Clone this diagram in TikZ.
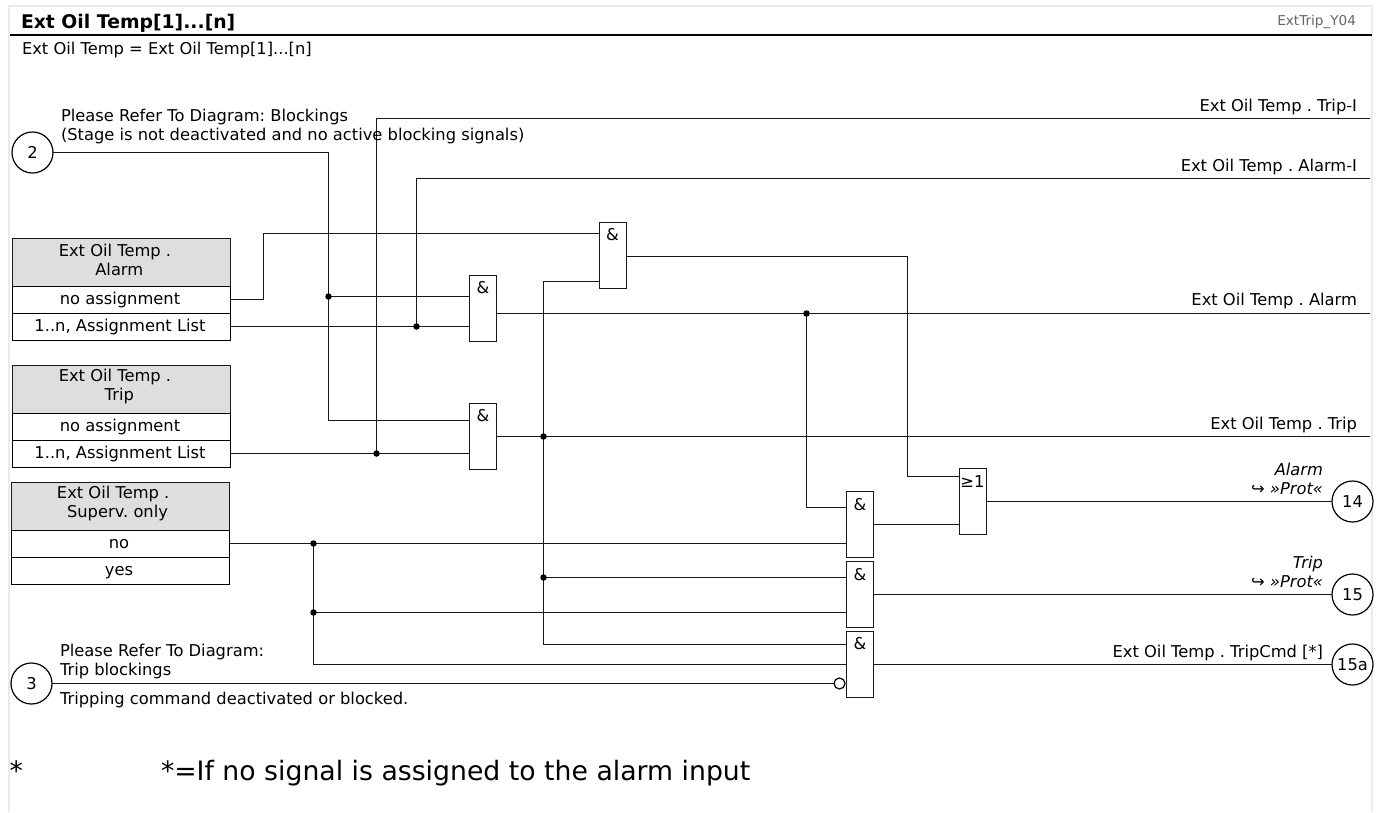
\documentclass[tikz,border=0pt]{standalone}
\usepackage{fontspec}
\setmainfont{DejaVu Sans}
\newcommand{\fs}[2]{\fontsize{#1}{#2}\selectfont}
\tikzset{
  x=1pt,y=-1pt,
  outer sep=0pt,
  wire/.style={draw=black!90,line width=1.6pt},
  gate/.style={draw=black!90,fill=white,line width=1.6pt,minimum width=27pt,minimum height=66pt,inner sep=0pt,anchor=north west},
  gatetext/.style={inner sep=0pt,font=\fs{16.3}{19}},
  term/.style={circle,draw=black,fill=white,line width=1.2pt,minimum size=41pt,inner sep=0pt,font=\fs{16.3}{19}},
  head/.style={draw=black!90,fill=black!13,line width=1.6pt,anchor=north west,inner sep=0pt,minimum width=218pt,minimum height=48pt},
  headtext/.style={inner sep=0pt,align=center,font=\fs{16.3}{19}},
  cell/.style={draw=black,fill=white,line width=1.6pt,anchor=north west,inner sep=0pt,minimum width=218pt,minimum height=27pt,text height=11pt,text depth=3pt,font=\fs{16.3}{19}},
  lab/.style={inner sep=0pt,font=\fs{16.3}{19},align=left},
  rlab/.style={inner sep=0pt,anchor=base east,font=\fs{16.3}{19}},
  junction/.style={circle,fill=black,inner sep=0pt,minimum size=6.5pt},
  inv/.style={circle,draw=black,fill=white,line width=1.2pt,inner sep=0pt,minimum size=11pt}
}
\begin{document}
\frenchspacing
\begin{tikzpicture}
\useasboundingbox (0,0) rectangle (1378,812);
\fill[white] (0,0) rectangle (1378,812);
\draw[black!8,line width=2pt] (9,812) -- (9,6) -- (1372,6) -- (1372,812);
\draw[black,line width=2.6pt] (10,35) -- (1372,35);
\node[inner sep=0pt,anchor=base west,font=\fs{18.8}{22}\bfseries] (title) at (21,28) {Ext Oil Temp[1]...[n]};
\node[inner sep=0pt,anchor=base east,font=\fs{13.6}{16},text=black!60] (code) at (1356,25) {ExtTrip\_Y04};
\node[lab,anchor=base west] (sub) at (22,54) {Ext Oil Temp = Ext Oil Temp[1]...[n]};

% setting tables
\node[head] (ah) at (12.5,238.5) {};
\node[headtext] (aht) at (119.3,259.5) {Ext Oil Temp .\hspace*{0.53em}\\Alarm};
\node[cell] (a1) at (12.5,286.5) {no assignment\hspace*{3pt}};
\node[cell] (a2) at (12.5,313.5) {1..n, Assignment List\hspace*{3pt}};
\node[head] (th) at (12.5,365.5) {};
\node[headtext] (tht) at (119.3,386.5) {Ext Oil Temp .\hspace*{0.53em}\\Trip};
\node[cell] (t1) at (12.5,413.5) {no assignment\hspace*{3pt}};
\node[cell] (t2) at (12.5,440.5) {1..n, Assignment List\hspace*{3pt}};
\node[head] (sh) at (11.5,482.5) {};
\node[headtext] (sht) at (117.5,503.5) {Ext Oil Temp .\hspace*{0.53em}\\Superv. only};
\node[cell] (s1) at (11.5,530.5) {no\hspace*{3pt}};
\node[cell] (s2) at (11.5,557.5) {yes\hspace*{3pt}};

% terminals
\node[term] (c2) at (32.5,152.5) {2};
\node[term] (c3) at (31.5,683.5) {3};
\node[term] (c14) at (1352.5,501.5) {14};
\node[term] (c15) at (1352.5,594.5) {15};
\node[term] (c15a) at (1352.5,664.5) {15a};

% gates
\node[gate] (g1) at (469.5,275.5) {};
\node[gate] (g2) at (469.5,403.5) {};
\node[gate] (g3) at (599.5,222.5) {};
\node[gate] (g4) at (846.5,491.5) {};
\node[gate] (g5) at (846.5,561.5) {};
\node[gate] (g6) at (846.5,631.5) {};
\node[gate] (g7) at (959.5,468.5) {};

% free ends and bends
\coordinate (eTI) at (1370,118.5);
\coordinate (eAI) at (1370,178.5);
\coordinate (eA) at (1370,313.5);
\coordinate (eT) at (1370,436.5);
\coordinate (jA) at (328.5,296.5);
\coordinate (jB) at (328.5,420.5);
\coordinate (jTI) at (376.5,453.5);
\coordinate (jAI) at (416.5,326.5);
\coordinate (jO) at (806.5,313.5);
\coordinate (jT) at (543.5,436.5);
\coordinate (jT2) at (543.5,577.5);
\coordinate (jN) at (313.5,543.5);
\coordinate (jN2) at (313.5,612.5);
\coordinate (kA) at (263.5,299.5);
\coordinate (kB) at (263.5,233.5);
\coordinate (kC) at (543.5,281.5);
\coordinate (kD) at (543.5,644.5);
\coordinate (kE) at (907.5,256.5);
\coordinate (kF) at (907.5,476.5);
\coordinate (kG) at (313.5,664.5);
\coordinate (kH) at (806.5,507.5);
\coordinate (kI) at (900,524.5);
\node[inv] (nt) at (839.5,683.5) {};

% wires
\draw[wire] (c2.east) -- (jA |- c2.east) -- (jB) -- (jB -| g2.west);
\draw[wire] (jA) -- (jA -| g1.west);
\draw[wire] (jTI -| t2.east) -- (jTI -| g2.west);
\draw[wire] (jTI) -- (jTI |- eTI) -- (eTI);
\draw[wire] (jAI -| a2.east) -- (jAI -| g1.west);
\draw[wire] (jAI) -- (jAI |- eAI) -- (eAI);
\draw[wire] (kA -| a1.east) -- (kA) -- (kB) -- (kB -| g3.west);
\draw[wire] (eA -| g1.east) -- (eA);
\draw[wire] (eT -| g2.east) -- (eT);
\draw[wire] (kC -| g3.west) -- (kC) -- (kD) -- (kD -| g6.west);
\draw[wire] (jT2) -- (jT2 -| g5.west);
\draw[wire] (jO) -- (kH) -- (kH -| g4.west);
\draw[wire] (kE -| g3.east) -- (kE) -- (kF) -- (kF -| g7.west);
\draw[wire] (jN -| s1.east) -- (jN -| g4.west);
\draw[wire] (jN) -- (kG) -- (kG -| g6.west);
\draw[wire] (jN2) -- (jN2 -| g5.west);
\draw[wire] (c3.east) -- (nt.west);
\draw[wire] (kI -| g4.east) -- (kI -| g7.west);
\draw[wire] (c14.west -| g7.east) -- (c14.west);
\draw[wire] (c15.west -| g5.east) -- (c15.west);
\draw[wire] (c15a.west -| g6.east) -- (c15a.west);

% junction dots
\node[junction] (dA) at (jA) {};
\node[junction] (dTI) at (jTI) {};
\node[junction] (dAI) at (jAI) {};
\node[junction] (dO) at (jO) {};
\node[junction] (dT) at (jT) {};
\node[junction] (dT2) at (jT2) {};
\node[junction] (dN) at (jN) {};
\node[junction] (dN2) at (jN2) {};

% gate symbols
\node[gatetext] (s1g) at (483,288) {\&};
\node[gatetext] (s2g) at (483,415.5) {\&};
\node[gatetext] (s3g) at (612.5,235) {\&};
\node[gatetext] (s4g) at (860,504.5) {\&};
\node[gatetext] (s5g) at (860,574.5) {\&};
\node[gatetext] (s6g) at (860,644) {\&};
\node[gatetext] (s7g) at (972.5,482) {≥1};

% labels
\node[lab,anchor=north west] (l1) at (61,109.5) {Please Refer To Diagram: Blockings\\(Stage is not deactivated and no active blocking signals)};
\node[lab,anchor=north west] (l2) at (60,644.5) {Please Refer To Diagram:\\Trip blockings};
\node[lab,anchor=base west] (l3) at (60,704) {Tripping command deactivated or blocked.};
\node[rlab] (r1) at (1357,111.5) {Ext Oil Temp . Trip-I};
\node[rlab] (r2) at (1357,171.5) {Ext Oil Temp . Alarm-I};
\node[rlab] (r3) at (1357,305.5) {Ext Oil Temp . Alarm};
\node[rlab] (r4) at (1357,429.5) {Ext Oil Temp . Trip};
\node[rlab,font=\fs{16.3}{19}\itshape] (r5) at (1323,475) {Alarm};
\node[rlab,font=\fs{16.3}{19}\itshape] (r6) at (1323,494) {↪ »Prot«};
\node[rlab,font=\fs{16.3}{19}\itshape] (r7) at (1323,568) {Trip};
\node[rlab,font=\fs{16.3}{19}\itshape] (r8) at (1323,587) {↪ »Prot«};
\node[rlab] (r9) at (1323,657.5) {Ext Oil Temp . TripCmd [*]};
\node[inner sep=0pt,anchor=base west,font=\fs{26.7}{31}] (star) at (9.5,780) {*};
\node[inner sep=0pt,anchor=base west,font=\fs{26.7}{31}] (note) at (161,780) {*=If no signal is assigned to the alarm input};
\end{tikzpicture}
\end{document}
